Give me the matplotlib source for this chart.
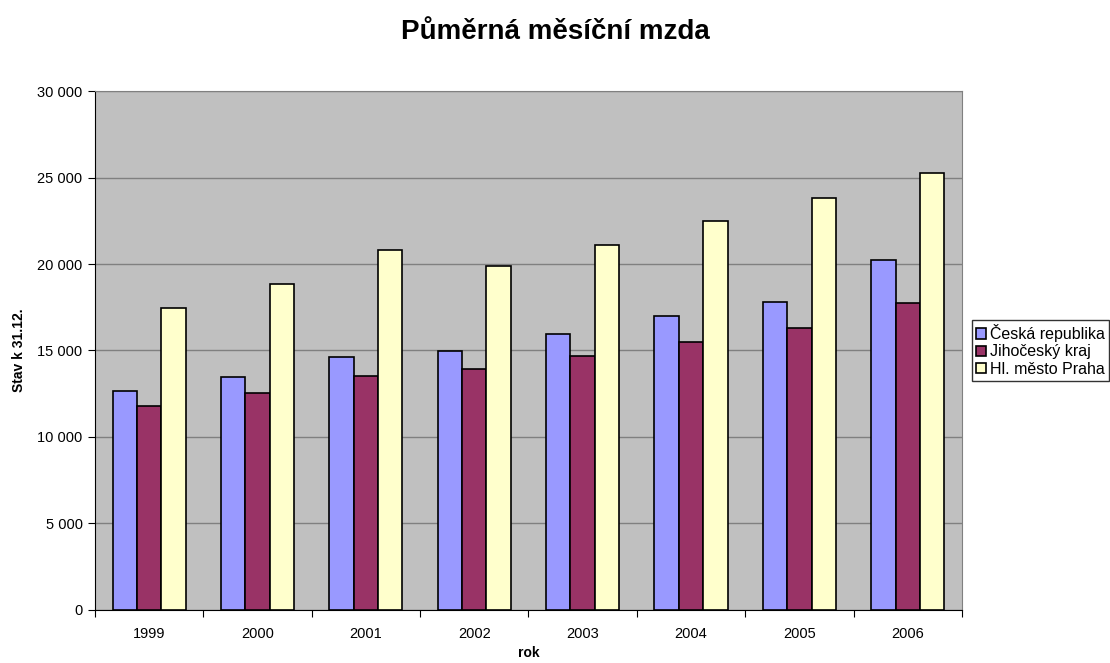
import numpy as np
import matplotlib.pyplot as plt
from matplotlib.ticker import FuncFormatter

plt.rcParams['font.family'] = ['Liberation Sans', 'DejaVu Sans']

# data
roky = ['1999', '2000', '2001', '2002', '2003', '2004', '2005', '2006']
ceska_republika = [12660, 13490, 14620, 14990, 15940, 17010, 17820, 20230]
jihocesky_kraj = [11810, 12560, 13540, 13910, 14660, 15490, 16300, 17730]
praha = [17440, 18850, 20810, 19900, 21080, 22470, 23800, 25280]

serie = [
    ('Česká republika', ceska_republika, '#9999FF'),
    ('Jihočeský kraj', jihocesky_kraj, '#993366'),
    ('Hl. město Praha', praha, '#FFFFCC'),
]

fig = plt.figure(figsize=(11.1, 6.63), dpi=100)
ax = fig.add_axes([0.0856, 0.08, 0.781, 0.7827])
ax.set_facecolor('#C0C0C0')

x = np.arange(len(roky))
w = 0.225
for i, (nazev, hodnoty, barva) in enumerate(serie):
    ax.bar(x + (i - 1) * w, hodnoty, w, color=barva, edgecolor='black',
           linewidth=1.2, label=nazev, zorder=3)

ax.set_xlim(-0.5, len(roky) - 0.5)
ax.set_ylim(0, 30000)
ax.set_yticks(np.arange(0, 30001, 5000))
ax.yaxis.set_major_formatter(FuncFormatter(lambda v, p: f'{int(v):,}'.replace(',', ' ')))
ax.grid(axis='y', color='#808080', linewidth=1, zorder=0)

# category boundaries as major ticks, labels on minor ticks
ax.set_xticks(np.arange(-0.5, len(roky), 1.0))
ax.set_xticklabels([])
ax.set_xticks(x, minor=True)
ax.set_xticklabels(roky, minor=True)
ax.tick_params(axis='x', which='major', length=5, direction='out', color='black')
ax.tick_params(axis='x', which='minor', length=0, pad=12, labelsize=10.5)
ax.tick_params(axis='y', length=5, direction='out', labelsize=10.5, pad=4)

for s in ['top', 'right']:
    ax.spines[s].set_color('#808080')
for s in ['left', 'bottom']:
    ax.spines[s].set_color('black')

ax.set_xlabel('rok', fontsize=10, fontweight='bold', labelpad=4)
ax.set_ylabel('Stav k 31.12.', fontsize=10, fontweight='bold', labelpad=8)
fig.suptitle('Půměrná měsíční mzda', fontsize=20, fontweight='bold', y=0.972)

leg = ax.legend(loc='center left', bbox_to_anchor=(1.012, 0.5), fontsize=11.5,
                frameon=True, fancybox=False, edgecolor='black',
                handlelength=0.6, handleheight=0.6, handletextpad=0.25,
                labelspacing=0.15, borderpad=0.25, borderaxespad=0)
leg.get_frame().set_linewidth(1)

fig.savefig('out.png', dpi=100)
